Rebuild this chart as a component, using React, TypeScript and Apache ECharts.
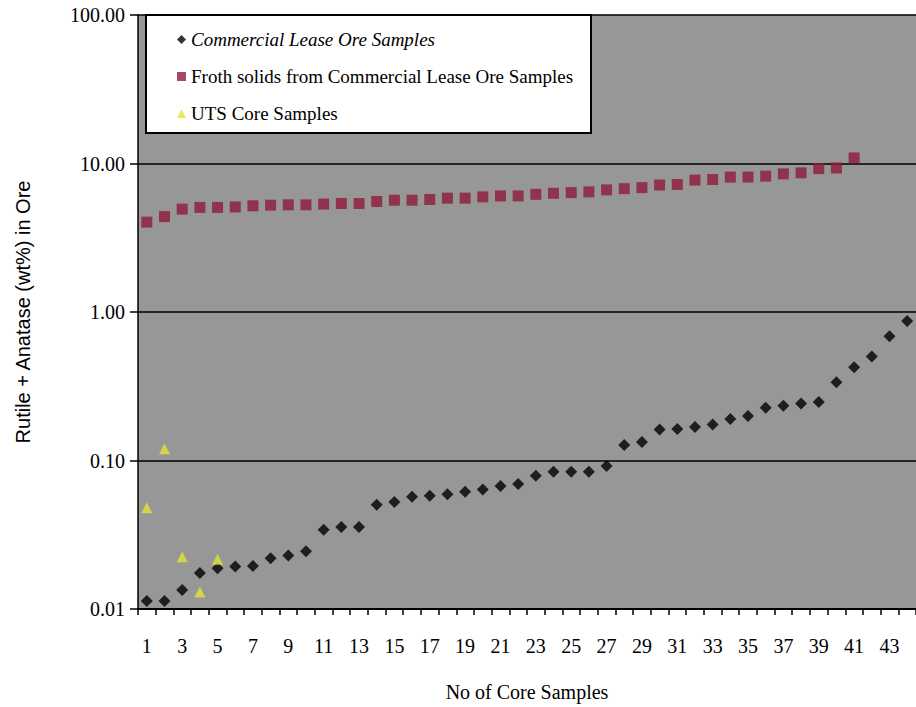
import React, { useEffect, useRef } from "react";
import * as echarts from "echarts";

const categories = Array.from({ length: 44 }, (_, i) => String(i + 1));

const commercialLease = [
  0.0113, 0.0113, 0.0134, 0.0175, 0.0188, 0.0193, 0.0195, 0.022, 0.0229, 0.0245,
  0.0342, 0.0356, 0.0356, 0.0504, 0.0525, 0.0569, 0.0578, 0.0593, 0.0615, 0.0637,
  0.0673, 0.0695, 0.079, 0.084, 0.084, 0.084, 0.092, 0.127, 0.133, 0.162,
  0.163, 0.168, 0.175, 0.19, 0.199, 0.227, 0.234, 0.242, 0.248, 0.337,
  0.425, 0.502, 0.686, 0.871,
];

const frothSolids = [
  4.03, 4.39, 4.93, 5.06, 5.06, 5.1, 5.19, 5.24, 5.27, 5.27,
  5.33, 5.38, 5.38, 5.55, 5.66, 5.66, 5.72, 5.84, 5.84, 5.96,
  6.05, 6.05, 6.2, 6.3, 6.37, 6.44, 6.64, 6.77, 6.88, 7.16,
  7.22, 7.73, 7.8, 8.1, 8.1, 8.22, 8.51, 8.65, 9.24, 9.33,
  10.9,
];

const utsCore = [0.048, 0.12, 0.0225, 0.013, 0.0216];

const seriesNames = [
  "Commercial Lease Ore Samples",
  "Froth solids from Commercial Lease Ore Samples",
  "UTS Core Samples",
];

const SERIF = "Liberation Serif";
const SANS = "Liberation Sans";

export default function App() {
  const ref = useRef<HTMLDivElement>(null);
  useEffect(() => {
    if (!ref.current) return;
    const chart = echarts.init(ref.current, null, { renderer: "svg" });
    chart.setOption({
      animation: false,
      backgroundColor: "#ffffff",
      textStyle: { fontFamily: SERIF },
      grid: {
        left: 138,
        top: 15,
        right: 0,
        bottom: 90,
        show: true,
        backgroundColor: "#979797",
        borderWidth: 0,
      },
      graphic: [
        {
          type: "rect",
          z: 3,
          shape: { x: 146, y: 15, width: 445, height: 118 },
          style: { fill: "#ffffff", stroke: "#000000", lineWidth: 2 },
        },
      ],
      legend: {
        z: 5,
        orient: "vertical",
        left: 172,
        top: 25,
        itemGap: 18,
        itemWidth: 9,
        itemHeight: 9,
        data: [
          { name: seriesNames[0], icon: "diamond" },
          { name: seriesNames[1], icon: "rect" },
          { name: seriesNames[2], icon: "triangle" },
        ],
        formatter: (name: string) =>
          name === seriesNames[0] ? `{it|${name}}` : name,
        textStyle: {
          fontFamily: SERIF,
          fontSize: 19,
          color: "#000",
          rich: {
            it: { fontFamily: SERIF, fontSize: 19, fontStyle: "italic", color: "#000" },
          },
        },
      },
      xAxis: {
        type: "category",
        data: categories,
        boundaryGap: true,
        name: "No of Core Samples",
        nameLocation: "middle",
        nameGap: 73,
        nameTextStyle: { fontFamily: SERIF, fontSize: 20, color: "#000" },
        axisLine: { show: true, lineStyle: { color: "#000", width: 2 } },
        axisTick: { show: true, interval: 0, length: 6, lineStyle: { color: "#000", width: 1.5 } },
        axisLabel: {
          interval: 1,
          margin: 27,
          fontFamily: SERIF,
          fontSize: 20,
          color: "#000",
        },
        splitLine: { show: false },
      },
      yAxis: {
        type: "log",
        logBase: 10,
        min: 0.01,
        max: 100,
        name: "Rutile + Anatase (wt%) in Ore",
        nameLocation: "middle",
        nameGap: 105,
        nameTextStyle: { fontFamily: SANS, fontSize: 20, color: "#000" },
        axisLine: { show: true, lineStyle: { color: "#000", width: 1.5 } },
        axisTick: { show: true, length: 8, lineStyle: { color: "#000", width: 1.5 } },
        axisLabel: {
          margin: 13,
          fontFamily: SERIF,
          fontSize: 20,
          color: "#000",
          formatter: (v: number) => v.toFixed(2),
        },
        splitLine: { show: true, lineStyle: { color: "#000", width: 1.5 } },
      },
      series: [
        {
          name: seriesNames[0],
          type: "scatter",
          symbol: "diamond",
          symbolSize: 12,
          itemStyle: { color: "#000000" },
          data: commercialLease,
          z: 4,
        },
        {
          name: seriesNames[1],
          type: "scatter",
          symbol: "rect",
          symbolSize: 11,
          itemStyle: { color: "#8e1c3c" },
          data: frothSolids,
          z: 4,
        },
        {
          name: seriesNames[2],
          type: "scatter",
          symbol: "triangle",
          symbolSize: 11,
          itemStyle: { color: "#e4e43a" },
          data: utsCore,
          z: 4,
        },
      ],
    });
    return () => chart.dispose();
  }, []);
  return (
    <div
      ref={ref}
      style={{ position: "fixed", left: 0, top: 0, width: 916, height: 707 }}
    />
  );
}
